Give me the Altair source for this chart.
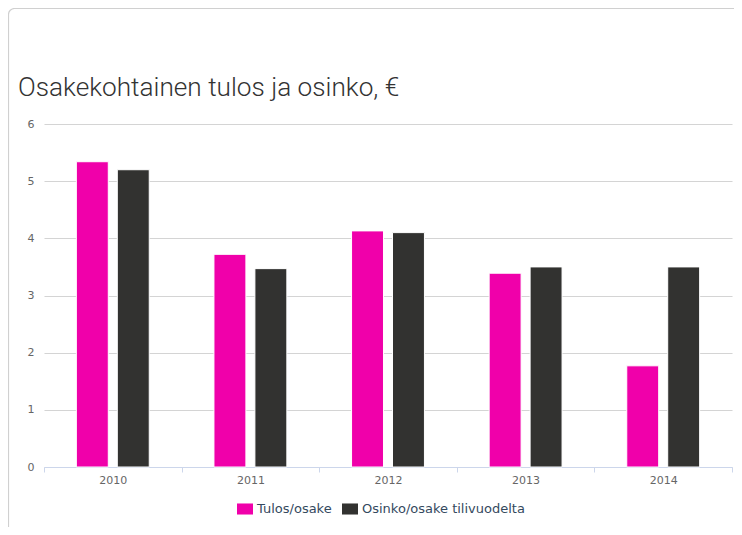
import altair as alt
import pandas as pd

years = ["2010", "2011", "2012", "2013", "2014"]
series_names = ["Tulos/osake", "Osinko/osake tilivuodelta"]
tulos = [5.34, 3.72, 4.13, 3.39, 1.77]
osinko = [5.20, 3.47, 4.10, 3.50, 3.50]
colors = ["#f000aa", "#323230"]
y_ticks = [0, 1, 2, 3, 4, 5, 6]
title_text = "Osakekohtainen tulos ja osinko, €"

df = pd.DataFrame({
    "year": years * 2,
    "series": [series_names[0]] * len(years) + [series_names[1]] * len(years),
    "value": tulos + osinko,
})

frame = alt.Chart(pd.DataFrame({"a": [0]})).mark_rect(
    fill=None, stroke="#d0d0d0", strokeWidth=1.2, cornerRadius=6
).encode(
    x=alt.value(-35.5), x2=alt.value(720), y=alt.value(-115.5), y2=alt.value(460)
)

title = alt.Chart(pd.DataFrame({"t": [title_text]})).mark_text(
    align="left", baseline="alphabetic", font="Roboto", fontWeight=300,
    fontSize=26.2, color="#333333",
).encode(
    text="t:N", x=alt.value(-26), y=alt.value(-28)
)

bars = alt.Chart(df).mark_bar(stroke="white", strokeWidth=1).encode(
    x=alt.X(
        "year:N",
        sort=years,
        scale=alt.Scale(paddingInner=0, paddingOuter=0),
        axis=alt.Axis(
            title=None, labelAngle=0, tickBand="extent",
            domainColor="#ccd6eb", tickColor="#ccd6eb", tickSize=5,
            labelPadding=2, labelColor="#666666", labelFontSize=11,
            labelFont="DejaVu Sans", grid=False,
        ),
    ),
    xOffset=alt.XOffset(
        "series:N", sort=series_names,
        scale=alt.Scale(paddingInner=0.22, paddingOuter=0.79),
    ),
    y=alt.Y(
        "value:Q",
        scale=alt.Scale(domain=[0, 6], nice=False),
        axis=alt.Axis(
            title=None, values=y_ticks, domain=False, ticks=False,
            gridColor="#d4d4d4", gridWidth=1.2, labelPadding=10,
            labelColor="#666666", labelFontSize=11, labelFont="DejaVu Sans",
        ),
    ),
    color=alt.Color(
        "series:N",
        scale=alt.Scale(domain=series_names, range=colors),
        legend=alt.Legend(
            title=None, orient="none", direction="horizontal",
            legendX=193, legendY=377,
            symbolType="M-1,-0.69H1V0.69H-1Z", symbolSize=256,
            symbolStrokeWidth=0, labelFont="DejaVu Sans", labelFontSize=13,
            labelColor="#34495e", columnPadding=10, labelOffset=4,
            labelLimit=400,
        ),
    ),
)

chart = alt.layer(frame, bars, title).properties(
    width=688,
    height=343,
    autosize=alt.AutoSizeParams(type="none"),
    padding={"left": 36, "top": 116, "right": 2, "bottom": 60},
).configure_view(stroke=None)

chart.save("out.html", embed_options={"renderer": "svg", "actions": False})
